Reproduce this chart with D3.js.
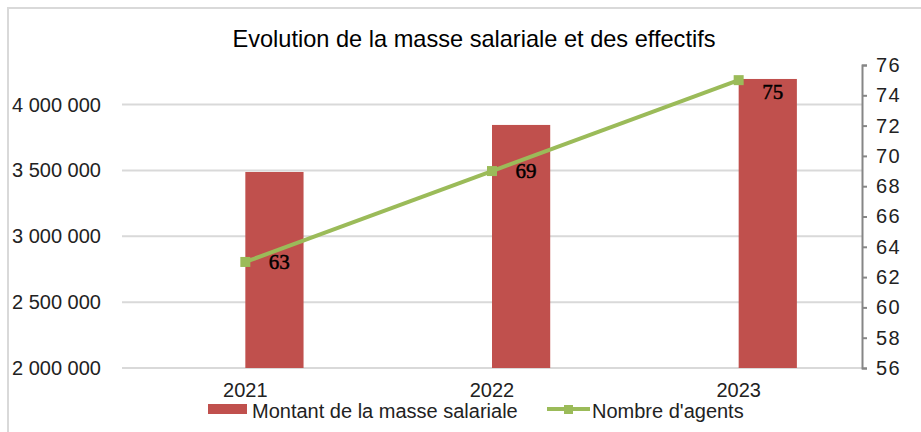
<html>
<head>
<script src="https://d3js.org/d3.v7.min.js"></script>
<style>
  body { margin: 0; background: #fff; }
  text { font-family: "Liberation Sans", Arial, sans-serif; }
</style>
</head>
<body>
<svg id="chart" width="921" height="432"></svg>
<script>
// data
var years = ["2021", "2022", "2023"];
var masse = [3488000, 3845000, 4194000];
var agents = [63, 69, 75];
var leftTicks = [2000000, 2500000, 3000000, 3500000, 4000000];
var rightTicks = [56, 58, 60, 62, 64, 66, 68, 70, 72, 74, 76];

var svg = d3.select("#chart");
var plot = {left: 122, right: 862, top: 65, bottom: 368};

var x = d3.scaleBand().domain(years).range([plot.left, plot.right]);
var yL = d3.scaleLinear().domain([2000000, 4300000]).range([plot.bottom, plot.top]);
var yR = d3.scaleLinear().domain([56, 76]).range([plot.bottom, plot.top]);
var center = function(d) { return x(d) + x.bandwidth() / 2; };
var fmt = function(v) { return d3.format(",")(v).replace(/,/g, " "); };

// chart frame
svg.append("path")
    .attr("d", "M8,432 L8,8 L921,8")
    .attr("fill", "none")
    .attr("stroke", "#d9d9d9")
    .attr("stroke-width", 2);

svg.append("text")
    .attr("x", 474).attr("y", 47)
    .attr("text-anchor", "middle")
    .attr("textLength", 483)
    .attr("lengthAdjust", "spacingAndGlyphs")
    .style("font-size", "24px")
    .attr("fill", "#000")
    .text("Evolution de la masse salariale et des effectifs");

// gridlines + left labels
var gl = svg.append("g");
gl.selectAll("line").data(leftTicks).enter().append("line")
    .attr("x1", plot.left).attr("x2", plot.right)
    .attr("y1", function(d) { return yL(d); })
    .attr("y2", function(d) { return yL(d); })
    .attr("stroke", "#d9d9d9").attr("stroke-width", 2);
gl.selectAll("text").data(leftTicks).enter().append("text")
    .attr("x", 12)
    .attr("y", function(d) { return yL(d); })
    .attr("dy", "0.35em")
    .style("font-size", "20px")
    .attr("fill", "#222")
    .text(fmt);

// bars
svg.append("g").selectAll("rect").data(years).enter().append("rect")
    .attr("x", function(d) { return center(d); })
    .attr("width", x.bandwidth() * 0.236)
    .attr("y", function(d, i) { return yL(masse[i]); })
    .attr("height", function(d, i) { return plot.bottom - yL(masse[i]); })
    .attr("fill", "#c0504d");

// right axis
var ra = svg.append("g").attr("transform", "translate(" + plot.right + ",0)")
    .call(d3.axisRight(yR).tickValues(rightTicks).tickSize(5).tickPadding(9));
ra.select(".domain").attr("stroke", "#868686").attr("stroke-width", 2);
ra.selectAll(".tick line").attr("stroke", "#868686").attr("stroke-width", 2);
ra.selectAll(".tick text")
    .style("font-size", "20px")
    .style("letter-spacing", "1.5px")
    .style("font-family", "'Liberation Sans', Arial, sans-serif")
    .attr("fill", "#222");

// x labels
svg.append("g").selectAll("text").data(years).enter().append("text")
    .attr("x", center)
    .attr("y", 397)
    .attr("text-anchor", "middle")
    .style("font-size", "20px")
    .attr("fill", "#222")
    .text(function(d) { return d; });

// line of agents
var pts = years.map(function(d, i) { return [center(d), yR(agents[i])]; });
svg.append("path")
    .attr("d", d3.line()(pts))
    .attr("fill", "none")
    .attr("stroke", "#9bbb59")
    .attr("stroke-width", 4);
svg.append("g").selectAll("rect").data(pts).enter().append("rect")
    .attr("x", function(p) { return p[0] - 5; })
    .attr("y", function(p) { return p[1] - 5; })
    .attr("width", 10).attr("height", 10)
    .attr("fill", "#9bbb59");

// data labels
svg.append("g").selectAll("text").data(years).enter().append("text")
    .attr("x", function(d) { return center(d) + x.bandwidth() * 0.138; })
    .attr("y", function(d, i) { return Math.max(yR(agents[i]), plot.top + 27); })
    .attr("dy", "0.35em")
    .attr("text-anchor", "middle")
    .style("font-family", "'Liberation Serif', 'Times New Roman', serif")
    .style("font-size", "21px")
    .attr("fill", "#000")
    .attr("stroke", "#000")
    .attr("stroke-width", 0.5)
    .text(function(d, i) { return agents[i]; });

// legend
var lg = svg.append("g");
lg.append("rect").attr("x", 208).attr("y", 404).attr("width", 39).attr("height", 10).attr("fill", "#c0504d");
lg.append("text").attr("x", 252).attr("y", 418).style("font-size", "20px").attr("fill", "#222")
    .text("Montant de la masse salariale");
lg.append("line").attr("x1", 547).attr("x2", 590).attr("y1", 409).attr("y2", 409)
    .attr("stroke", "#9bbb59").attr("stroke-width", 4);
lg.append("rect").attr("x", 564).attr("y", 405).attr("width", 9).attr("height", 9).attr("fill", "#9bbb59");
lg.append("text").attr("x", 592).attr("y", 418).style("font-size", "20px").attr("fill", "#222")
    .text("Nombre d'agents");
</script>
</body>
</html>
